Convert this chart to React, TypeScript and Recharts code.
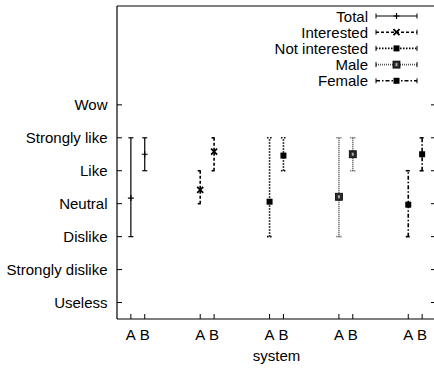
import React from 'react';
import { ScatterChart, Scatter, XAxis, YAxis, ErrorBar, Legend } from 'recharts';

const groups = ['Total', 'Interested', 'Not interested', 'Male', 'Female'];
const systems = ['A', 'B'];
const ratingLabels = ['Useless', 'Strongly dislike', 'Dislike', 'Neutral', 'Like', 'Strongly like', 'Wow'];
const ratingTicks = [1, 2, 3, 4, 5, 6, 7];

// system A: mean and range per group
const meanA = [4.17, 4.42, 4.06, 4.21, 3.97];
const lowA = [3, 4, 3, 3, 3];
const highA = [6, 5, 6, 6, 5];

// system B
const meanB = [5.5, 5.58, 5.46, 5.5, 5.5];
const lowB = [5, 5, 5, 5, 5];
const highB = [6, 6, 6, 6, 6];

const xTicks = groups.flatMap((_, i) => [i + 0.9, i + 1.1]);

const seriesData = groups.map((name, i) => ({
  name,
  points: [
    { x: i + 0.9, y: meanA[i], err: [meanA[i] - lowA[i], highA[i] - meanA[i]] },
    { x: i + 1.1, y: meanB[i], err: [meanB[i] - lowB[i], highB[i] - meanB[i]] },
  ],
}));

const styles = [
  { dash: undefined, stroke: '#000', width: 1.2, mark: 'plus' },
  { dash: '3 2', stroke: '#000', width: 1.6, mark: 'cross' },
  { dash: '1.5 1.5', stroke: '#000', width: 1.6, mark: 'square' },
  { dash: '1 1', stroke: '#555', width: 1.6, mark: 'box' },
  { dash: '4 2 1.5 2', stroke: '#000', width: 1.6, mark: 'square' },
];

const TICK_LEN = 5;
const Y_LABEL_GAP = 9.5;
const X_LABEL_GAP = 10;

const drawMark = (kind: string, cx: number, cy: number) => {
  if (kind === 'plus') {
    return <path d={`M${cx - 3},${cy}H${cx + 3}M${cx},${cy - 3}V${cy + 3}`} stroke="#000" strokeWidth={1.2} />;
  }
  if (kind === 'cross') {
    return (
      <path
        d={`M${cx - 3},${cy - 3}L${cx + 3},${cy + 3}M${cx - 3},${cy + 3}L${cx + 3},${cy - 3}`}
        stroke="#000"
        strokeWidth={1.8}
      />
    );
  }
  if (kind === 'box') {
    return (
      <g>
        <rect x={cx - 3.5} y={cy - 3.5} width={7} height={7} fill="#2a2a2a" stroke="#000" strokeWidth={0.8} />
        <rect x={cx - 1} y={cy - 1.5} width={2} height={3} fill="#aaa" />
      </g>
    );
  }
  return <rect x={cx - 3} y={cy - 3} width={6} height={6} fill="#000" />;
};

// ticks point into the plot (gnuplot style), so draw them together with the labels
const LeftTick = (p: any) => (
  <g>
    <line x1={p.x + Y_LABEL_GAP} x2={p.x + Y_LABEL_GAP + TICK_LEN} y1={p.y} y2={p.y} stroke="#000" />
    <text x={p.x} y={p.y} dy="0.36em" textAnchor="end" fontSize={15} fill="#000">
      {ratingLabels[p.payload.value - 1]}
    </text>
  </g>
);

const BottomTick = (p: any) => (
  <g>
    <line x1={p.x} x2={p.x} y1={p.y - X_LABEL_GAP} y2={p.y - X_LABEL_GAP - TICK_LEN} stroke="#000" />
    <text x={p.x} y={p.y} dy="0.71em" textAnchor="middle" fontSize={15} fill="#000">
      {systems[p.index % 2]}
    </text>
  </g>
);

const TopTick = (p: any) => <line x1={p.x} x2={p.x} y1={p.y} y2={p.y + TICK_LEN} stroke="#000" />;

const RightTick = (p: any) => <line x1={p.x - TICK_LEN} x2={p.x} y1={p.y} y2={p.y} stroke="#000" />;

const LegendBox = () => (
  <svg width={175} height={95}>
    {groups.map((name, i) => {
      const y = 16 + i * 16.2;
      const st = styles[i];
      return (
        <g key={name}>
          <text x={108} y={y} textAnchor="end" dominantBaseline="central" fontSize={15} fill="#000">
            {name}
          </text>
          <line x1={116} x2={157} y1={y} y2={y} stroke={st.stroke} strokeWidth={st.width} strokeDasharray={st.dash} />
          <line x1={116} x2={116} y1={y - 2.5} y2={y + 2.5} stroke="#000" strokeWidth={1} />
          <line x1={157} x2={157} y1={y - 2.5} y2={y + 2.5} stroke="#000" strokeWidth={1} />
          {drawMark(st.mark, 136.5, y)}
        </g>
      );
    })}
  </svg>
);

const axisStroke = { stroke: '#000', strokeWidth: 1.2 };

export default function App() {
  return (
    <div
      style={{
        position: 'absolute',
        left: 0,
        top: 0,
        width: 434,
        height: 368,
        overflow: 'hidden',
        background: '#fff',
        fontFamily: '"Liberation Sans", Arial, sans-serif',
      }}
    >
      <ScatterChart width={442} height={368} margin={{ top: 5, right: 0, bottom: 0, left: 0 }}>
        <XAxis
          type="number"
          dataKey="x"
          domain={[0.7, 5.3]}
          allowDataOverflow
          ticks={xTicks}
          interval={0}
          tickLine={false}
          tickSize={0}
          tickMargin={X_LABEL_GAP}
          height={49}
          axisLine={axisStroke}
          tick={BottomTick}
          label={{ value: 'system', position: 'insideBottom', offset: 7, fill: '#000', fontSize: 15 }}
        />
        <XAxis
          xAxisId="top"
          orientation="top"
          type="number"
          domain={[0.7, 5.3]}
          allowDataOverflow
          ticks={xTicks}
          interval={0}
          tickLine={false}
          tickSize={0}
          tickMargin={0}
          height={1}
          axisLine={axisStroke}
          tick={TopTick}
        />
        <YAxis
          type="number"
          dataKey="y"
          domain={[0.5, 10]}
          allowDataOverflow
          ticks={ratingTicks}
          interval={0}
          tickLine={false}
          tickSize={0}
          tickMargin={Y_LABEL_GAP}
          width={117}
          axisLine={axisStroke}
          tick={LeftTick}
        />
        <YAxis
          yAxisId="right"
          orientation="right"
          type="number"
          domain={[0.5, 10]}
          allowDataOverflow
          ticks={ratingTicks}
          interval={0}
          tickLine={false}
          tickSize={0}
          tickMargin={0}
          width={6}
          axisLine={axisStroke}
          tick={RightTick}
        />
        <Legend
          layout="vertical"
          align="center"
          verticalAlign="middle"
          content={() => <LegendBox />}
          wrapperStyle={{ left: 260, top: 0, width: 175, height: 95 }}
        />
        {seriesData.map((s, i) => (
          <Scatter
            key={s.name}
            name={s.name}
            data={s.points}
            fill="#000"
            isAnimationActive={false}
            shape={(p: any) => drawMark(styles[i].mark, p.cx, p.cy)}
          >
            <ErrorBar
              dataKey="err"
              direction="y"
              width={2.5}
              stroke={styles[i].stroke}
              strokeWidth={styles[i].width}
              strokeDasharray={styles[i].dash}
              isAnimationActive={false}
            />
          </Scatter>
        ))}
      </ScatterChart>
    </div>
  );
}
